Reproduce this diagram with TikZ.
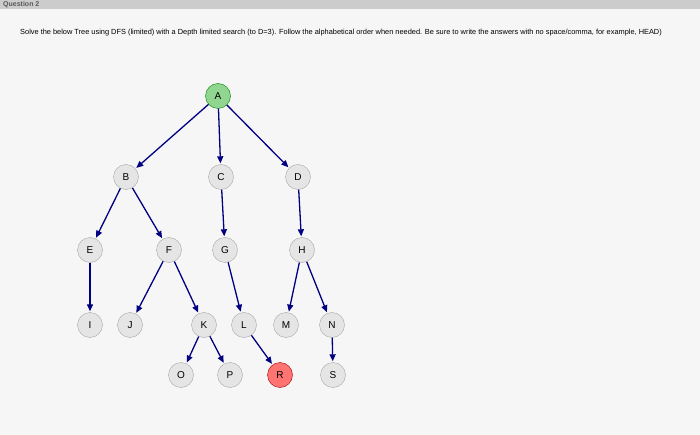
\documentclass[tikz,border=0pt]{standalone}
\usepackage{fontspec}
\setmainfont{Liberation Sans}
\usetikzlibrary{arrows.meta}
\begin{document}
\begin{tikzpicture}[x=1pt,y=-1pt,
 nd/.style={circle,draw=gray!70,fill=gray!20,minimum size=25pt,inner sep=0pt,font=\fontsize{10}{12}\selectfont},
 ed/.style={draw=blue!50!black,line width=1.3pt,-{Triangle[length=7pt,width=6pt]},shorten >=1pt}]
\fill[white!93!gray] (0,0) rectangle (700,435);
\useasboundingbox (0,0) rectangle (700,435);
\fill[gray!40] (0,0) rectangle (700,9);
\node[anchor=west,font=\bfseries\fontsize{7}{8}\selectfont,text=gray!70!black,inner sep=1pt] (q) at (2,4.5) {Question 2};
\node[anchor=west,font=\fontsize{7.4}{8}\selectfont,inner sep=0pt] (t) at (20,33) {Solve the below Tree using DFS (limited) with a Depth limited search (to D=3). Follow the alphabetical order when needed. Be sure to write the answers with no space/comma, for example, HEAD)};
\node[nd,fill=green!45!gray!60,draw=green!50!black] (A) at (218,96) {A};
\node[nd] (B) at (126,177) {B};
\node[nd] (C) at (221,177) {C};
\node[nd] (D) at (298,177) {D};
\node[nd] (E) at (90,250) {E};
\node[nd] (F) at (169,250) {F};
\node[nd] (G) at (225,250) {G};
\node[nd] (H) at (302,250) {H};
\node[nd] (I) at (90,325) {I};
\node[nd] (J) at (130,325) {J};
\node[nd] (K) at (204,325) {K};
\node[nd] (L) at (244,325) {L};
\node[nd] (M) at (286,325) {M};
\node[nd] (N) at (332,325) {N};
\node[nd] (O) at (181,375) {O};
\node[nd] (P) at (230,375) {P};
\node[nd,fill=red!55,draw=red!60!black] (R) at (280,375) {R};
\node[nd] (S) at (333,375) {S};
\foreach \a/\b in {A/B,A/C,A/D,B/E,B/F,C/G,D/H,E/I,F/J,F/K,G/L,H/M,H/N,K/O,K/P,L/R,N/S}
  \draw[ed] (\a) -- (\b);
\end{tikzpicture}
\end{document}
